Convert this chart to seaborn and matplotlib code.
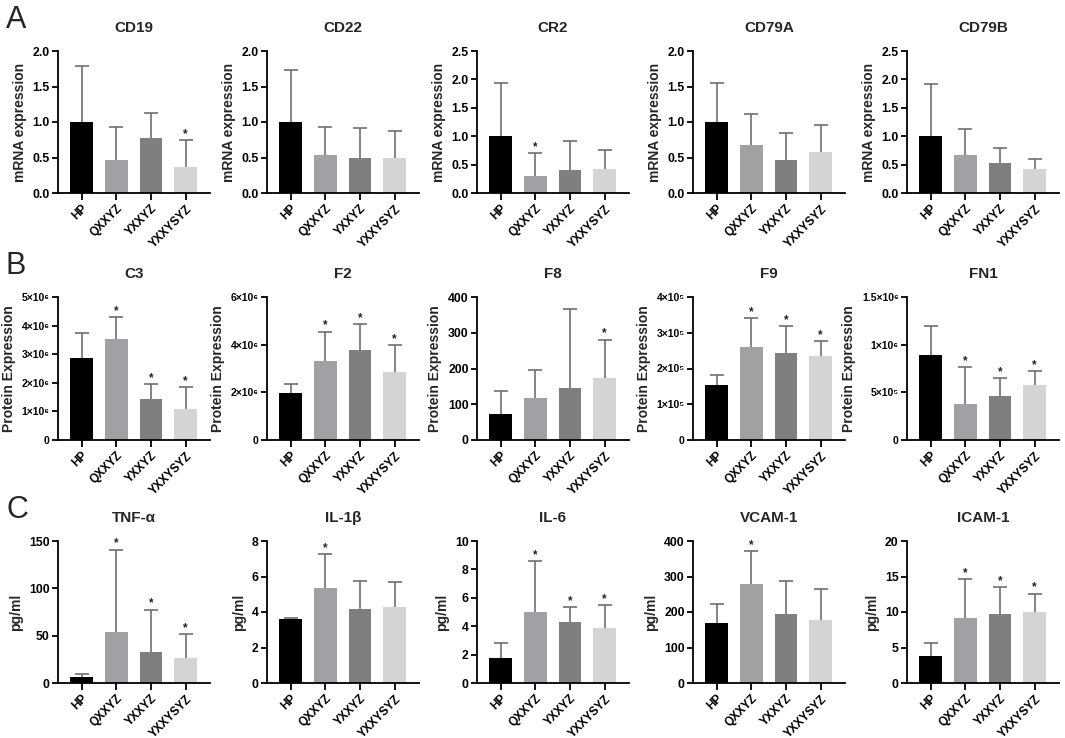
import numpy as np
import pandas as pd
import matplotlib
matplotlib.use("Agg")
import matplotlib.pyplot as plt
import seaborn as sns

# ---------------- data ----------------
groups = ["HP", "QXXYZ", "YXXYZ", "YXXYSYZ"]
bar_colors = ["#000000", "#a1a1a5", "#7f7f7f", "#d4d4d4"]

# Row A: mRNA expression
CD19_mean = [1.00, 0.47, 0.77, 0.36]
CD19_sd = [0.79, 0.46, 0.36, 0.39]
CD19_star = [False, False, False, True]
CD22_mean = [1.00, 0.53, 0.49, 0.50]
CD22_sd = [0.73, 0.40, 0.42, 0.38]
CD22_star = [False, False, False, False]
CR2_mean = [1.00, 0.30, 0.40, 0.42]
CR2_sd = [0.93, 0.40, 0.52, 0.33]
CR2_star = [False, True, False, False]
CD79A_mean = [1.00, 0.67, 0.47, 0.58]
CD79A_sd = [0.55, 0.44, 0.38, 0.38]
CD79A_star = [False, False, False, False]
CD79B_mean = [1.00, 0.67, 0.52, 0.43]
CD79B_sd = [0.92, 0.46, 0.28, 0.17]
CD79B_star = [False, False, False, False]

# Row B: protein expression
C3_mean = [2.86e6, 3.52e6, 1.43e6, 1.07e6]
C3_sd = [0.87e6, 0.78e6, 0.52e6, 0.79e6]
C3_star = [False, True, True, True]
F2_mean = [1.97e6, 3.31e6, 3.78e6, 2.86e6]
F2_sd = [0.39e6, 1.24e6, 1.07e6, 1.14e6]
F2_star = [False, True, True, True]
F8_mean = [73, 118, 146, 174]
F8_sd = [64, 78, 220, 107]
F8_star = [False, False, False, True]
F9_mean = [1.55e5, 2.60e5, 2.42e5, 2.35e5]
F9_sd = [0.28e5, 0.82e5, 0.76e5, 0.42e5]
F9_star = [False, True, True, True]
FN1_mean = [8.9e5, 3.8e5, 4.6e5, 5.8e5]
FN1_sd = [3.1e5, 3.86e5, 1.9e5, 1.4e5]
FN1_star = [False, True, True, True]

# Row C: cytokines (pg/ml)
TNF_mean = [5.9, 54, 33, 26]
TNF_sd = [4.1, 87, 44.5, 25.5]
TNF_star = [False, True, True, True]
IL1B_mean = [3.60, 5.33, 4.17, 4.26]
IL1B_sd = [0.08, 1.95, 1.57, 1.44]
IL1B_star = [False, True, False, False]
IL6_mean = [1.79, 4.98, 4.30, 3.88]
IL6_sd = [1.00, 3.62, 1.05, 1.62]
IL6_star = [False, True, True, True]
VCAM_mean = [169, 280, 195, 178]
VCAM_sd = [54, 91, 92, 87]
VCAM_star = [False, True, False, False]
ICAM_mean = [3.76, 9.22, 9.68, 9.95]
ICAM_sd = [1.88, 5.38, 3.87, 2.65]
ICAM_star = [False, True, True, True]

# tick values / labels
mrna2_ticks = [0, 0.5, 1.0, 1.5, 2.0]
mrna2_labels = ["0.0", "0.5", "1.0", "1.5", "2.0"]
mrna25_ticks = [0, 0.5, 1.0, 1.5, 2.0, 2.5]
mrna25_labels = ["0.0", "0.5", "1.0", "1.5", "2.0", "2.5"]
C3_ticks = [0, 1e6, 2e6, 3e6, 4e6, 5e6]
C3_labels = ["0", "1×10⁶", "2×10⁶", "3×10⁶", "4×10⁶", "5×10⁶"]
F2_ticks = [0, 2e6, 4e6, 6e6]
F2_labels = ["0", "2×10⁶", "4×10⁶", "6×10⁶"]
F8_ticks = [0, 100, 200, 300, 400]
F8_labels = ["0", "100", "200", "300", "400"]
F9_ticks = [0, 1e5, 2e5, 3e5, 4e5]
F9_labels = ["0", "1×10⁵", "2×10⁵", "3×10⁵", "4×10⁵"]
FN1_ticks = [0, 5e5, 1e6, 1.5e6]
FN1_labels = ["0", "5×10⁵", "1×10⁶", "1.5×10⁶"]
TNF_ticks = [0, 50, 100, 150]
TNF_labels = ["0", "50", "100", "150"]
IL1B_ticks = [0, 2, 4, 6, 8]
IL1B_labels = ["0", "2", "4", "6", "8"]
IL6_ticks = [0, 2, 4, 6, 8, 10]
IL6_labels = ["0", "2", "4", "6", "8", "10"]
VCAM_ticks = [0, 100, 200, 300, 400]
VCAM_labels = ["0", "100", "200", "300", "400"]
ICAM_ticks = [0, 5, 10, 15, 20]
ICAM_labels = ["0", "5", "10", "15", "20"]

rows = [
    ("A", "mRNA expression", [
        ("CD19", CD19_mean, CD19_sd, CD19_star, mrna2_ticks, mrna2_labels),
        ("CD22", CD22_mean, CD22_sd, CD22_star, mrna2_ticks, mrna2_labels),
        ("CR2", CR2_mean, CR2_sd, CR2_star, mrna25_ticks, mrna25_labels),
        ("CD79A", CD79A_mean, CD79A_sd, CD79A_star, mrna2_ticks, mrna2_labels),
        ("CD79B", CD79B_mean, CD79B_sd, CD79B_star, mrna25_ticks, mrna25_labels),
    ]),
    ("B", "Protein Expression", [
        ("C3", C3_mean, C3_sd, C3_star, C3_ticks, C3_labels),
        ("F2", F2_mean, F2_sd, F2_star, F2_ticks, F2_labels),
        ("F8", F8_mean, F8_sd, F8_star, F8_ticks, F8_labels),
        ("F9", F9_mean, F9_sd, F9_star, F9_ticks, F9_labels),
        ("FN1", FN1_mean, FN1_sd, FN1_star, FN1_ticks, FN1_labels),
    ]),
    ("C", "pg/ml", [
        ("TNF-α", TNF_mean, TNF_sd, TNF_star, TNF_ticks, TNF_labels),
        ("IL-1β", IL1B_mean, IL1B_sd, IL1B_star, IL1B_ticks, IL1B_labels),
        ("IL-6", IL6_mean, IL6_sd, IL6_star, IL6_ticks, IL6_labels),
        ("VCAM-1", VCAM_mean, VCAM_sd, VCAM_star, VCAM_ticks, VCAM_labels),
        ("ICAM-1", ICAM_mean, ICAM_sd, ICAM_star, ICAM_ticks, ICAM_labels),
    ]),
]

# ---------------- style ----------------
sns.set_theme(style="ticks")
plt.rcParams["font.family"] = ["Liberation Sans", "DejaVu Sans"]
plt.rcParams["font.weight"] = "bold"
plt.rcParams["axes.linewidth"] = 1.3

W, H = 1065, 738
fig = plt.figure(figsize=(W / 100, H / 100), dpi=100)

col_left_px = [58, 267, 477, 693, 907]
ax_w_px = 152
row_top_px = [51, 297, 541]
row_bot_px = [193, 440, 683]
letter_y_px = [20, 266, 510]

err_color = "#6f6f6f"

for r, (letter, ylab, panels) in enumerate(rows):
    fig.text(6 / W, 1 - letter_y_px[r] / H, letter, fontsize=22,
             fontweight="normal", va="center", ha="left")
    for c, (title, mean, sd, star, ticks, tlabels) in enumerate(panels):
        left = col_left_px[c] / W
        bottom = 1 - row_bot_px[r] / H
        height = (row_bot_px[r] - row_top_px[r]) / H
        ax = fig.add_axes([left, bottom, ax_w_px / W, height])
        df = pd.DataFrame({"group": groups, "value": mean})
        sns.barplot(data=df, x="group", y="value", hue="group",
                    palette=bar_colors, legend=False, ax=ax, width=0.66,
                    errorbar=None, saturation=1, linewidth=0, zorder=2)
        xs = np.array([p.get_x() + p.get_width() / 2 for p in ax.patches])
        m = np.array(mean, dtype=float)
        s = np.array(sd, dtype=float)
        eb = ax.errorbar(xs, m, yerr=[np.zeros_like(s), s], fmt="none",
                         ecolor=err_color, elinewidth=1.2, capsize=5,
                         capthick=1.2, zorder=3, clip_on=False)
        for cl in eb[1]:
            if np.allclose(cl.get_ydata(), m):
                cl.set_visible(False)
        for xi, mi, si, st in zip(xs, m, s, star):
            if st:
                ax.text(xi, mi + si, "*", ha="center", va="bottom",
                        fontsize=8.5, fontweight="bold", color="#222222")
        ax.set_xlim(-0.68, 3.7)
        ax.set_ylim(ticks[0], ticks[-1])
        ax.set_yticks(ticks)
        ax.set_yticklabels(tlabels)
        ax.set_xticks(xs)
        ax.set_xticklabels(groups, rotation=45, ha="right",
                           rotation_mode="anchor")
        sci = any("×" in t for t in tlabels)
        ax.tick_params(axis="y", labelsize=7.5 if sci else 8.8, length=4,
                       width=1.3, direction="out", pad=2, colors="black")
        ax.tick_params(axis="x", labelsize=8.5, length=5, width=1.3,
                       direction="out", pad=2, colors="black")
        for lab in ax.get_xticklabels() + ax.get_yticklabels():
            lab.set_fontweight("bold")
        ax.set_xlabel("")
        ax.set_ylabel(ylab, fontsize=10, fontweight="bold", labelpad=4)
        ax.set_title(title, fontsize=11, fontweight="bold", pad=14)
        sns.despine(ax=ax)
        ax.spines["left"].set_color("black")
        ax.spines["bottom"].set_color("black")

fig.savefig("out.png", dpi=100)
